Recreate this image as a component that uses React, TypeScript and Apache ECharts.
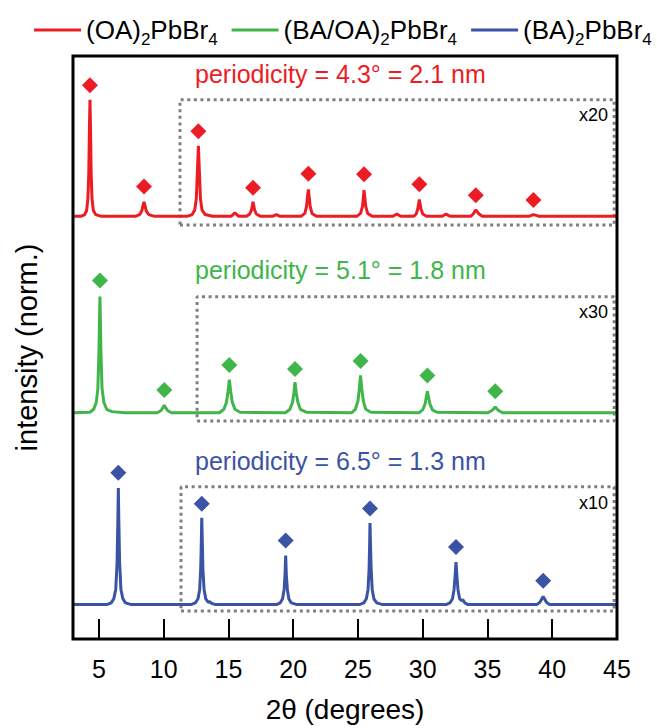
import React, { useEffect, useRef } from "react";
import * as echarts from "echarts";

const RED = "#ED1C24";
const GREEN = "#3FB54A";
const BLUE = "#3A53A4";
const BOX = "#7F7F7F";
const FONT = "'Liberation Sans', Arial, sans-serif";

const xTicks = [5, 10, 15, 20, 25, 30, 35, 40, 45];
const seriesNames = ["(OA)2PbBr4", "(BA/OA)2PbBr4", "(BA)2PbBr4"];
const legendRich = ["(OA){s|2}PbBr{s|4}", "(BA/OA){s|2}PbBr{s|4}", "(BA){s|2}PbBr{s|4}"];
const periodicityTexts = [
  "periodicity = 4.3° = 2.1 nm",
  "periodicity = 5.1° = 1.8 nm",
  "periodicity = 6.5° = 1.3 nm",
];
const scaleTexts = ["x20", "x30", "x10"];

// traces (2θ, stacked normalized intensity)
const redTrace: [number, number][] = [
  [3.0, 72.5], [3.6, 72.5], [3.9, 72.8], [4.05, 73.5], [4.15, 75.5], [4.22, 80], [4.27, 88], [4.31, 92.5], [4.35, 88], [4.4, 80], [4.47, 75.5], [4.57, 73.5], [4.75, 72.8], [5.2, 72.5],
  [7.8, 72.5], [8.15, 72.8], [8.3, 73.4], [8.4, 74.3], [8.48, 75.0], [8.56, 74.3], [8.66, 73.4], [8.85, 72.8], [9.3, 72.5],
  [11.8, 72.5], [12.2, 72.8], [12.4, 73.6], [12.52, 75.5], [12.6, 80], [12.68, 84.6], [12.76, 80], [12.84, 75.5], [12.96, 73.6], [13.2, 72.8], [13.8, 72.5],
  [15.2, 72.5], [15.5, 73.1], [15.8, 72.5],
  [16.4, 72.5], [16.65, 72.9], [16.78, 73.6], [16.9, 75.0], [17.02, 73.6], [17.15, 72.9], [17.5, 72.5],
  [18.4, 72.5], [18.7, 72.8], [19.0, 72.5],
  [20.6, 72.5], [20.9, 73.0], [21.03, 74.2], [21.1, 75.8], [21.17, 77.1], [21.24, 75.8], [21.31, 74.2], [21.45, 73.0], [21.8, 72.5],
  [24.9, 72.5], [25.2, 73.0], [25.35, 74.2], [25.42, 75.8], [25.47, 77.0], [25.53, 75.8], [25.6, 74.2], [25.75, 73.0], [26.1, 72.5],
  [27.7, 72.5], [28.0, 72.9], [28.3, 72.5],
  [29.3, 72.5], [29.5, 72.9], [29.62, 73.8], [29.74, 75.4], [29.86, 73.8], [30.0, 72.9], [30.3, 72.5],
  [31.5, 72.5], [31.8, 72.9], [32.1, 72.5],
  [33.7, 72.5], [33.9, 72.9], [34.0, 73.3], [34.1, 73.6], [34.2, 73.3], [34.35, 72.9], [34.6, 72.5],
  [38.2, 72.5], [38.45, 72.7], [38.55, 72.8], [38.7, 72.7], [39.0, 72.5], [45.0, 72.5],
];

const greenTrace: [number, number][] = [
  [3.0, 38.8], [4.3, 38.9], [4.6, 39.4], [4.8, 40.6], [4.92, 43], [5.0, 49], [5.08, 58.75], [5.16, 49], [5.24, 43], [5.38, 40.6], [5.6, 39.4], [6.0, 39.0], [7.0, 38.8],
  [9.5, 38.8], [9.8, 39.2], [9.95, 39.7], [10.05, 40.1], [10.15, 39.7], [10.3, 39.2], [10.6, 38.8],
  [14.3, 38.8], [14.65, 39.4], [14.85, 40.6], [14.97, 42.5], [15.07, 44.5], [15.17, 42.5], [15.3, 40.6], [15.5, 39.4], [15.9, 38.9],
  [19.4, 38.8], [19.75, 39.4], [19.95, 40.6], [20.06, 42.3], [20.14, 44.05], [20.23, 42.3], [20.36, 40.6], [20.55, 39.4], [21.0, 38.9],
  [24.5, 38.8], [24.8, 39.4], [25.0, 40.8], [25.1, 42.8], [25.2, 45.2], [25.3, 42.8], [25.42, 40.8], [25.6, 39.4], [26.0, 38.9],
  [29.7, 38.8], [30.0, 39.3], [30.18, 40.3], [30.28, 41.5], [30.36, 42.5], [30.45, 41.5], [30.56, 40.3], [30.75, 39.3], [31.1, 38.9],
  [35.0, 38.8], [35.35, 39.2], [35.6, 39.8], [35.85, 39.2], [36.2, 38.8], [45.0, 38.8],
];

const blueTrace: [number, number][] = [
  [3.0, 5.9], [5.6, 5.9], [5.95, 6.2], [6.15, 6.9], [6.3, 8.5], [6.4, 13], [6.46, 20], [6.5, 25.9], [6.54, 20], [6.6, 13], [6.7, 8.5], [6.85, 6.9], [7.05, 6.2], [7.5, 5.9],
  [12.1, 5.9], [12.45, 6.2], [12.65, 6.9], [12.78, 8.5], [12.86, 12], [12.91, 17], [12.94, 20.8], [12.98, 17], [13.03, 12], [13.12, 8.5], [13.25, 6.9], [13.45, 6.3], [13.55, 6.4], [13.7, 6.1], [14.0, 5.9],
  [18.7, 5.9], [19.0, 6.2], [19.18, 6.9], [19.3, 8.5], [19.37, 11], [19.42, 14.3], [19.47, 11], [19.55, 8.5], [19.66, 6.9], [19.85, 6.2], [20.3, 5.9],
  [25.1, 5.9], [25.45, 6.2], [25.65, 6.9], [25.78, 8.5], [25.86, 12], [25.9, 16], [25.93, 19.9], [25.97, 16], [26.02, 12], [26.1, 8.5], [26.23, 6.9], [26.45, 6.2], [26.9, 5.9],
  [31.8, 5.9], [32.1, 6.2], [32.3, 6.9], [32.42, 8.5], [32.5, 10.8], [32.57, 13.2], [32.64, 10.8], [32.72, 8.5], [32.85, 6.9], [32.98, 6.6], [33.1, 6.7], [33.25, 6.2], [33.5, 5.9],
  [38.8, 5.9], [39.05, 6.3], [39.2, 6.9], [39.3, 7.3], [39.4, 6.9], [39.55, 6.3], [39.8, 5.9], [45.0, 5.9],
];

// peak markers (diamonds)
const redMarks: [number, number][] = [
  [4.31, 95.0], [8.48, 77.6], [12.68, 87.1], [16.9, 77.4], [21.17, 79.8], [25.47, 79.7], [29.74, 78.0], [34.1, 76.1], [38.55, 75.3],
];
const greenMarks: [number, number][] = [
  [5.08, 61.5], [10.05, 42.7], [15.07, 47.0], [20.14, 46.3], [25.2, 47.7], [30.36, 45.2], [35.6, 42.5],
];
const blueMarks: [number, number][] = [
  [6.5, 28.5], [12.94, 23.2], [19.42, 16.9], [25.93, 22.4], [32.57, 15.8], [39.3, 10.0],
];

// magnified regions: [xStart, xEnd, yBottom, yTop]
const redBox = [11.26, 44.78, 71.0, 92.5];
const greenBox = [12.58, 44.78, 37.4, 58.7];
const blueBox = [11.34, 44.78, 4.8, 26.1];

function boxPoints(b: number[]): [number, number][] {
  return [
    [b[0], b[2]],
    [b[1], b[2]],
    [b[1], b[3]],
    [b[0], b[3]],
    [b[0], b[2]],
  ];
}

export default function App() {
  const ref = useRef<HTMLDivElement>(null);
  useEffect(() => {
    document.body.style.margin = "0";
    const chart = echarts.init(ref.current!, null, { renderer: "svg" });
    const colors = [RED, GREEN, BLUE];
    const traces = [redTrace, greenTrace, blueTrace];
    const marks = [redMarks, greenMarks, blueMarks];
    const boxes = [redBox, greenBox, blueBox];
    const textY = [76, 272, 463];
    const scaleY = [115, 312, 503];

    const series: any[] = [];
    boxes.forEach((b, i) => {
      series.push({
        name: "box" + i,
        type: "line",
        data: boxPoints(b),
        showSymbol: false,
        symbol: "none",
        lineStyle: { color: BOX, width: 3, type: [3, 3.6] },
        z: 1,
        silent: true,
      });
    });
    traces.forEach((t, i) => {
      series.push({
        name: seriesNames[i],
        type: "line",
        data: t,
        showSymbol: false,
        symbol: "none",
        color: colors[i],
        lineStyle: { color: colors[i], width: 3 },
        z: 3,
      });
    });
    marks.forEach((m, i) => {
      series.push({
        name: "marks" + i,
        type: "scatter",
        data: m,
        symbol: "diamond",
        symbolSize: 16,
        itemStyle: { color: colors[i], opacity: 1 },
        z: 4,
      });
    });

    const graphic: any[] = [];
    periodicityTexts.forEach((txt, i) => {
      graphic.push({
        type: "text",
        left: 195,
        top: textY[i] - 15,
        style: {
          text: txt,
          fill: colors[i],
          font: `25px ${FONT}`,
        },
      });
    });
    scaleTexts.forEach((txt, i) => {
      graphic.push({
        type: "text",
        x: 608,
        y: scaleY[i],
        style: {
          text: txt,
          fill: "#000",
          font: `18px ${FONT}`,
          align: "right",
          verticalAlign: "middle",
        },
      });
    });

    chart.setOption({
      animation: false,
      backgroundColor: "#fff",
      grid: {
        left: 73,
        right: 40,
        top: 56,
        bottom: 86,
        show: true,
        borderColor: "#000",
        borderWidth: 3,
        backgroundColor: "transparent",
        z: 10,
      },
      legend: {
        data: seriesNames,
        left: 29,
        top: 7,
        width: 900,
        icon: "rect",
        itemWidth: 47,
        itemHeight: 3,
        itemGap: 14,
        selectedMode: false,
        formatter: (name: string) => legendRich[seriesNames.indexOf(name)],
        textStyle: {
          fontFamily: FONT,
          fontSize: 26,
          color: "#000",
          lineHeight: 36,
          rich: {
            s: { fontSize: 17, lineHeight: 17, verticalAlign: "bottom", fontFamily: FONT, color: "#000" },
          },
        },
      },
      xAxis: {
        type: "value",
        min: 3,
        max: 45,
        name: "2θ (degrees)",
        nameLocation: "middle",
        nameGap: 56,
        nameTextStyle: { fontFamily: FONT, fontSize: 28, color: "#000" },
        axisLine: { show: false },
        splitLine: { show: false },
        axisTick: {
          inside: true,
          length: 20,
          customValues: xTicks,
          lineStyle: { color: "#000", width: 2 },
        },
        axisLabel: {
          customValues: xTicks,
          margin: 17,
          fontFamily: FONT,
          fontSize: 25,
          color: "#000",
          showMaxLabel: true,
        },
      },
      yAxis: {
        type: "value",
        min: 0,
        max: 100,
        name: "intensity (norm.)",
        nameLocation: "middle",
        nameGap: 32,
        nameTextStyle: { fontFamily: FONT, fontSize: 29, color: "#000" },
        axisLine: { show: false },
        axisTick: { show: false },
        axisLabel: { show: false },
        splitLine: { show: false },
      },
      graphic,
      series,
    });
    return () => chart.dispose();
  }, []);
  return <div ref={ref} style={{ width: 657, height: 728 }} />;
}
